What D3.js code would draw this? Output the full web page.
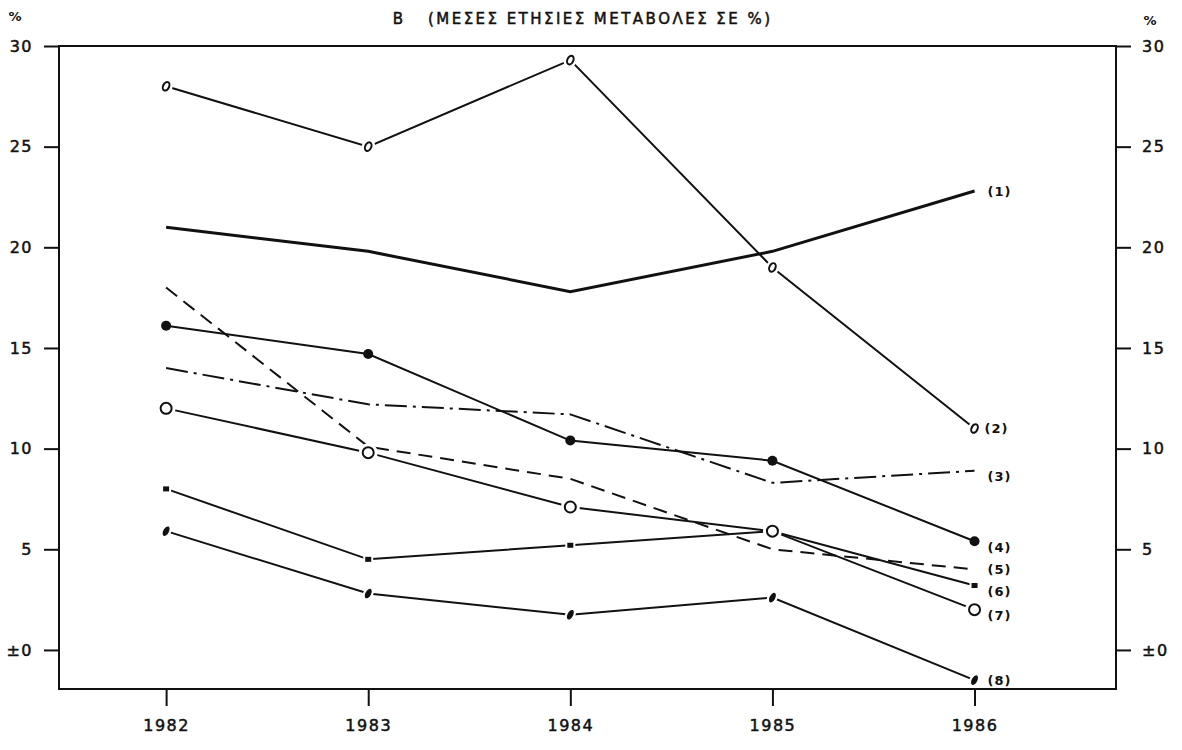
<!DOCTYPE html>
<html lang="el">
<head>
<meta charset="UTF-8">
<title>Μέσες ετήσιες μεταβολές σε %</title>
<script src="https://d3js.org/d3.v7.min.js"></script>
<style>
  body { margin: 0; background: #fff; }
  svg { display: block; }
  text { font-family: "DejaVu Sans", sans-serif; fill: #111; }
</style>
</head>
<body>
<svg width="1182" height="750"></svg>
<script>
// data
const years = [1982, 1983, 1984, 1985, 1986];
const yTicks = [0, 5, 10, 15, 20, 25, 30];
const s1 = [21.0, 19.8, 17.8, 19.8, 22.8];
const s2 = [28.0, 25.0, 29.3, 19.0, 11.0];
const s3 = [14.0, 12.2, 11.7, 8.3, 8.9];
const s4 = [16.1, 14.7, 10.4, 9.4, 5.4];
const s5 = [18.0, 10.1, 8.5, 5.0, 4.0];
const s6 = [8.0, 4.5, 5.2, 5.9, 3.2];
const s7 = [12.0, 9.8, 7.1, 5.9, 2.0];
const s8 = [5.9, 2.8, 1.75, 2.6, -1.5];
const seriesLabels = ['(1)', '(2)', '(3)', '(4)', '(5)', '(6)', '(7)', '(8)'];
const title = 'ΜΕΣΕΣ ΕΤΗΣΙΕΣ ΜΕΤΑΒΟΛΕΣ ΣΕ %';

const svg = d3.select('svg');
const m = { left: 59, right: 1116, top: 46, bottom: 689 };

const x = d3.scaleLinear().domain([1981.47, 1986.7]).range([m.left, m.right]);
const y = d3.scaleLinear().domain([-1.94, 30]).range([m.bottom, m.top]);

// frame
svg.append('rect')
  .attr('x', m.left).attr('y', m.top)
  .attr('width', m.right - m.left).attr('height', m.bottom - m.top)
  .attr('fill', 'none').attr('stroke', '#111').attr('stroke-width', 2);

const fmt = d => d === 0 ? '±0' : d;

const axL = svg.append('g').attr('transform', `translate(${m.left},0)`)
  .call(d3.axisLeft(y).tickValues(yTicks).tickSize(15).tickPadding(11).tickFormat(fmt));
const axR = svg.append('g').attr('transform', `translate(${m.right},0)`)
  .call(d3.axisRight(y).tickValues(yTicks).tickSize(15).tickPadding(11).tickFormat(fmt));
const axB = svg.append('g').attr('transform', `translate(0,${m.bottom})`)
  .call(d3.axisBottom(x).tickValues(years).tickSize(17).tickPadding(14).tickFormat(d3.format('d')));

[axL, axR, axB].forEach(a => {
  a.select('.domain').remove();
  a.selectAll('line').attr('stroke', '#111').attr('stroke-width', 2);
  a.selectAll('text').attr('font-size', 16).attr('letter-spacing', 1.5)
    .attr('font-family', '"DejaVu Sans", sans-serif').attr('fill', '#111')
    .attr('stroke', '#111').attr('stroke-width', 0.5);
});

// % signs and title
svg.append('text').attr('x', 15).attr('y', 21).attr('text-anchor', 'middle')
  .attr('font-size', 13).attr('font-weight', 'bold').text('%');
svg.append('text').attr('x', 1150).attr('y', 25).attr('text-anchor', 'middle')
  .attr('font-size', 13).attr('font-weight', 'bold').text('%');
svg.append('text').attr('x', 398).attr('y', 24).attr('text-anchor', 'middle')
  .attr('font-size', 15).attr('stroke', '#111').attr('stroke-width', 0.5).text('B');
svg.append('text').attr('x', 428).attr('y', 24)
  .attr('font-size', 15).attr('stroke', '#111').attr('stroke-width', 0.5)
  .attr('textLength', 342).attr('lengthAdjust', 'spacing')
  .text('(' + title + ')');

const series = [
  { vals: s1, width: 3, dash: null, marker: null },
  { vals: s2, width: 2, dash: null, marker: 'o' },
  { vals: s3, width: 2, dash: '22,6,3,6', marker: null },
  { vals: s4, width: 2, dash: null, marker: 'dot' },
  { vals: s5, width: 2, dash: '14,8', marker: null },
  { vals: s6, width: 2, dash: null, marker: 'sq' },
  { vals: s7, width: 2, dash: null, marker: 'circle' },
  { vals: s8, width: 2, dash: null, marker: 'leaf' }
];

const line = d3.line().x((d, i) => x(years[i])).y(d => y(d));

svg.append('g').selectAll('path')
  .data(series)
  .enter().append('path')
  .attr('d', d => line(d.vals))
  .attr('fill', 'none')
  .attr('stroke', '#111')
  .attr('stroke-width', d => d.width)
  .attr('stroke-dasharray', d => d.dash);

// markers (white halo first so lines stop short of them)
function drawMarker(g, type, cx, cy) {
  if (type === 'o') {
    g.append('ellipse').attr('cx', cx).attr('cy', cy).attr('rx', 3).attr('ry', 4.5)
      .attr('transform', `rotate(25,${cx},${cy})`)
      .attr('fill', '#fff').attr('stroke', '#fff').attr('stroke-width', 7);
    g.append('ellipse').attr('cx', cx).attr('cy', cy).attr('rx', 3).attr('ry', 4.5)
      .attr('transform', `rotate(25,${cx},${cy})`)
      .attr('fill', '#fff').attr('stroke', '#111').attr('stroke-width', 2);
  } else if (type === 'dot') {
    g.append('circle').attr('cx', cx).attr('cy', cy).attr('r', 5).attr('fill', '#111');
  } else if (type === 'sq') {
    g.append('rect').attr('x', cx - 5).attr('y', cy - 4.5).attr('width', 10).attr('height', 9)
      .attr('fill', '#fff');
    g.append('rect').attr('x', cx - 3).attr('y', cy - 2.5).attr('width', 6).attr('height', 5)
      .attr('fill', '#111');
  } else if (type === 'circle') {
    g.append('circle').attr('cx', cx).attr('cy', cy).attr('r', 6)
      .attr('fill', '#fff').attr('stroke', '#fff').attr('stroke-width', 7);
    g.append('circle').attr('cx', cx).attr('cy', cy).attr('r', 5.5)
      .attr('fill', '#fff').attr('stroke', '#111').attr('stroke-width', 2);
  } else if (type === 'leaf') {
    g.append('ellipse').attr('cx', cx).attr('cy', cy).attr('rx', 3.5).attr('ry', 6.5)
      .attr('transform', `rotate(28,${cx},${cy})`)
      .attr('fill', '#fff').attr('stroke', '#fff').attr('stroke-width', 3);
    g.append('ellipse').attr('cx', cx).attr('cy', cy).attr('rx', 2.8).attr('ry', 5.2)
      .attr('transform', `rotate(28,${cx},${cy})`)
      .attr('fill', '#111');
  }
}

const mg = svg.append('g');
series.forEach(s => {
  if (!s.marker) return;
  s.vals.forEach((v, i) => drawMarker(mg, s.marker, x(years[i]), y(v)));
});

// series numbers at the right end
const labelShift = [1, 0, 6, 6, 0, 6, 6, 0];
svg.append('g').selectAll('text')
  .data(series)
  .enter().append('text')
  .attr('x', (d, i) => x(1986) + (i === 1 ? 10 : 13))
  .attr('y', (d, i) => y(d.vals[4]) + labelShift[i])
  .attr('dy', '0.35em')
  .attr('font-size', 13)
  .attr('font-weight', 'bold')
  .attr('letter-spacing', 1)
  .text((d, i) => seriesLabels[i]);
</script>
</body>
</html>
